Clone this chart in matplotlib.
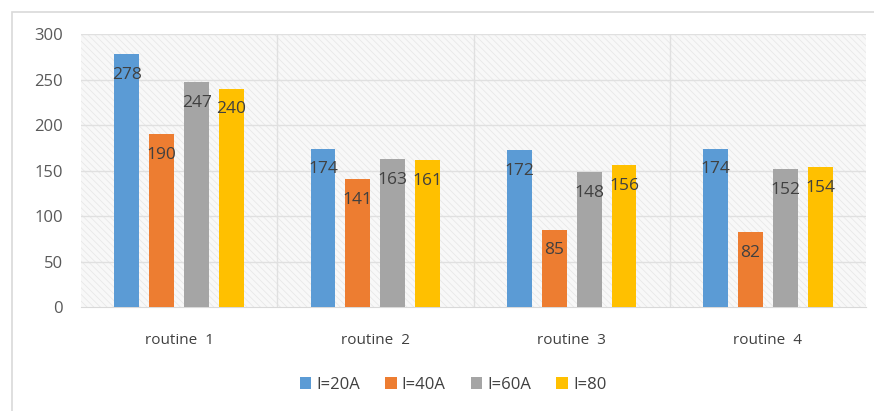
import numpy as np
import matplotlib.pyplot as plt
from matplotlib.patches import Rectangle

plt.rcParams['font.family'] = ['Open Sans', 'DejaVu Sans']
plt.rcParams['hatch.linewidth'] = 0.5
plt.rcParams['hatch.color'] = '#e2e2e2'

categories = ['routine  1', 'routine  2', 'routine  3', 'routine  4']
series_names = ['I=20A', 'I=40A', 'I=60A', 'I=80']
i20 = [278, 174, 172, 174]
i40 = [190, 141, 85, 82]
i60 = [247, 163, 148, 152]
i80 = [240, 161, 156, 154]
colors = ['#5B9BD5', '#ED7D31', '#A5A5A5', '#FFC000']

fig = plt.figure(figsize=(8.74, 4.11), dpi=100)
# outer chart frame
fig.patches.append(Rectangle((12 / 874, -0.01), 1.0, 1 - 12 / 411 + 0.01,
                             transform=fig.transFigure, fill=False,
                             edgecolor='#d9d9d9', lw=1.2))

ax = fig.add_axes([81 / 874, 1 - 307 / 411, (866 - 81) / 874, (307 - 34) / 411])

# hatched plot background
ax.add_patch(Rectangle((-0.5, 0), 4, 300, facecolor='#f8f8f8', edgecolor='#e6e6e6',
                       hatch='\\\\\\\\\\', lw=0, zorder=0))

x = np.arange(len(categories))
width = 0.127
pitch = 0.178
for i, (vals, c, name) in enumerate(zip([i20, i40, i60, i80], colors, series_names)):
    xs = x + (i - 1.5) * pitch
    ax.bar(xs, vals, width=width, color=c, label=name, zorder=3)
    for xx, v in zip(xs, vals):
        ax.annotate(str(v), (xx, v), xytext=(0, -15), textcoords='offset points',
                    ha='center', va='center', fontsize=12.5, color='#404040', zorder=4)

ax.set_xlim(-0.5, 3.5)
ax.set_ylim(0, 300)
ax.set_yticks(range(0, 301, 50))
for y in range(50, 301, 50):
    ax.axhline(y, color='#e0e0e0', lw=1, zorder=1)
for b in [0.5, 1.5, 2.5]:
    ax.axvline(b, color='#e0e0e0', lw=1, zorder=1)

ax.set_xticks(x)
ax.set_xticklabels(categories)
ax.tick_params(axis='x', length=0, pad=19, labelsize=11, labelcolor='#404040')
ax.tick_params(axis='y', length=0, pad=13, labelsize=12, labelcolor='#595959')
for s in ['top', 'right', 'left']:
    ax.spines[s].set_visible(False)
ax.spines['bottom'].set_color('#d9d9d9')

ax.legend(loc='center', bbox_to_anchor=(453 / 874, 1 - 385 / 411),
          bbox_transform=fig.transFigure, ncol=4, frameon=False, fontsize=12,
          handlelength=0.7, handleheight=0.7, handletextpad=0.3, columnspacing=1.5,
          labelcolor='#404040')

plt.savefig('out.png', dpi=100)
